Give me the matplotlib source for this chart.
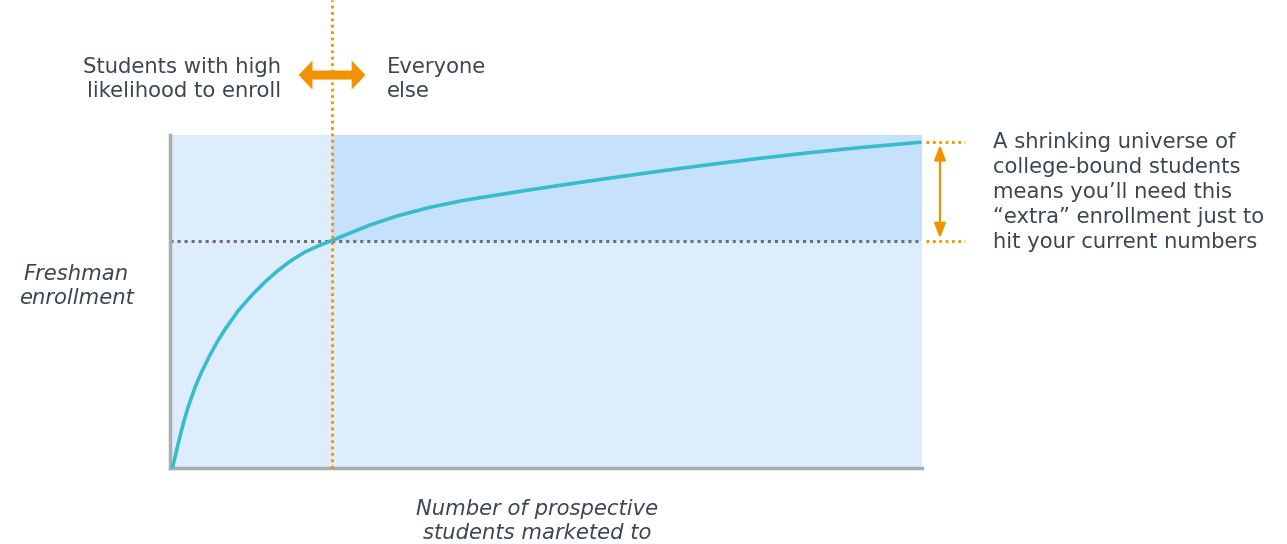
import matplotlib.pyplot as plt

plt.rcParams['font.family'] = ['DejaVu Sans']

# curve (x, y in percent of the plot box)
curve_x = [0.33, 1.06, 1.73, 2.39, 3.32, 4.26, 5.32, 6.38, 7.31, 9.04,
           10.90, 12.63, 14.36, 16.22, 17.95, 19.68, 21.54, 23.94, 26.60,
           30.19, 34.57, 38.96, 43.48, 47.87, 51.86, 57.18, 65.16, 71.81,
           78.46, 85.11, 91.76, 99.73]
curve_y = [0.0, 7.06, 13.06, 18.17, 24.17, 29.13, 33.93, 38.29, 41.59, 47.15,
           51.95, 55.86, 59.31, 62.46, 64.86, 66.67, 68.32, 70.57, 72.97,
           75.68, 78.29, 80.33, 81.98, 83.54, 84.89, 86.64, 89.16, 91.14,
           93.00, 94.71, 96.22, 97.81]

cutoff_x = 21.54    # where the orange dotted line sits
current_y = 68.17   # current enrollment level
top_y = 97.81       # enrollment at the end of the curve

light_blue = '#ddedfd'
dark_blue = '#c6e1fc'
teal = '#36bccb'
orange = '#f39200'
txt = '#3c4650'

fig = plt.figure(figsize=(12.87, 5.44), dpi=100)
ax = fig.add_axes([170/1287, 76/544, 752/1287, 333/544])
ax.set_xlim(0, 100)
ax.set_ylim(0, 100)

# shaded areas
ax.fill_between([0, 100], 0, 100, color=light_blue, lw=0, zorder=0)
ax.fill_between([cutoff_x, 100], current_y, 100, color=dark_blue, lw=0, zorder=0)

# current level and curve
ax.plot([0, 100], [current_y, current_y], color='#6b6e73', lw=2.2,
        linestyle=(0, (1, 1.3)), zorder=2)
ax.plot(curve_x, curve_y, color=teal, lw=2.6, zorder=3,
        solid_capstyle='round', solid_joinstyle='round')

# orange cut-off line running above the plot
ax.plot([cutoff_x, cutoff_x], [0, 140.5], color=orange, lw=2,
        linestyle=(0, (1, 1.3)), clip_on=False, zorder=4)

# thick double arrow at top
for end in (17.1, 26.0):
    ax.annotate('', xy=(end, 118), xytext=(cutoff_x, 118),
                arrowprops=dict(arrowstyle='simple,head_length=1.0,head_width=2.1,tail_width=0.65',
                                color=orange, lw=0, shrinkA=0, shrinkB=0),
                annotation_clip=False)

# right-side markers
for yy in (top_y, current_y):
    ax.plot([100.5, 105.7], [yy, yy], color=orange, lw=2,
            linestyle=(0, (1, 1.3)), clip_on=False)
ax.annotate('', xy=(102.4, top_y - 0.8), xytext=(102.4, current_y + 0.8),
            arrowprops=dict(arrowstyle='<|-|>,head_length=0.9,head_width=0.35',
                            color=orange, lw=1.6, shrinkA=0, shrinkB=0),
            annotation_clip=False)

for side in ('top', 'right'):
    ax.spines[side].set_visible(False)
for side in ('left', 'bottom'):
    ax.spines[side].set_color('#a9adb1')
    ax.spines[side].set_linewidth(2.5)
ax.set_xticks([])
ax.set_yticks([])

fs = 15.2
ls = 1.3
fig.text(281/1287, 1 - 79/544, 'Students with high\nlikelihood to enroll',
         ha='right', va='center', fontsize=fs, color=txt, linespacing=ls)
fig.text(387/1287, 1 - 79/544, 'Everyone\nelse',
         ha='left', va='center', fontsize=fs, color=txt, linespacing=ls)
fig.text(993/1287, 1 - 192/544,
         'A shrinking universe of\ncollege-bound students\nmeans you\u2019ll need this\n'
         '\u201cextra\u201d enrollment just to\nhit your current numbers',
         ha='left', va='center', fontsize=fs, color=txt, linespacing=ls)
fig.text(76/1287, 1 - 286/544, 'Freshman\nenrollment', ha='center', va='center',
         fontsize=fs, color=txt, style='italic', linespacing=ls)
fig.text(537/1287, 1 - 521/544, 'Number of prospective\nstudents marketed to',
         ha='center', va='center', fontsize=fs, color=txt, style='italic',
         linespacing=ls)

fig.savefig('out.png', dpi=100)
